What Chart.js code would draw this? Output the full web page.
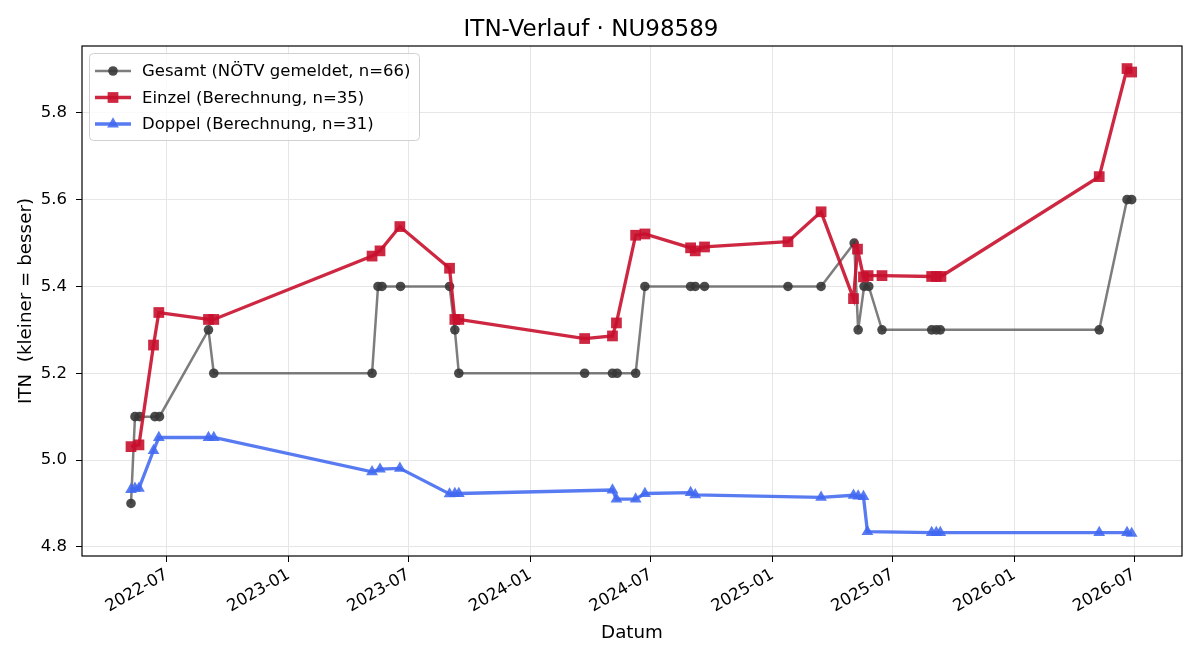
<!DOCTYPE html>
<html>
<head>
<meta charset="utf-8">
<script src="https://cdn.jsdelivr.net/npm/chart.js@4.4.1/dist/chart.umd.min.js"></script>
<style>
body{margin:0;background:#fff}
canvas{display:block}
</style>
</head>
<body>
<canvas id="chart" width="1200" height="660"></canvas>
<script>
// Werte
const gesamtDates = ['2022-05-08','2022-05-14','2022-05-21','2022-06-13','2022-06-20','2022-09-02','2022-09-10',
'2023-05-07','2023-05-16','2023-05-22','2023-06-19','2023-09-01','2023-09-09','2023-09-15',
'2024-03-23','2024-05-04','2024-05-11','2024-06-08','2024-06-22','2024-08-30','2024-09-06','2024-09-20',
'2025-01-24','2025-03-15','2025-05-04','2025-05-10','2025-05-19','2025-05-26','2025-06-15',
'2025-08-29','2025-09-05','2025-09-11','2026-05-09','2026-06-20','2026-06-27'];
const gesamtValues = [4.9,5.1,5.1,5.1,5.1,5.3,5.2,
5.2,5.4,5.4,5.4,5.4,5.3,5.2,
5.2,5.2,5.2,5.2,5.4,5.4,5.4,5.4,
5.4,5.4,5.5,5.3,5.4,5.4,5.3,
5.3,5.3,5.3,5.3,5.6,5.6];

const einzelDates = ['2022-05-08','2022-05-20','2022-06-11','2022-06-19','2022-09-02','2022-09-10',
'2023-05-07','2023-05-19','2023-06-18','2023-09-01','2023-09-09','2023-09-15',
'2024-03-23','2024-05-04','2024-05-10','2024-06-08','2024-06-22','2024-08-30','2024-09-06','2024-09-20',
'2025-01-24','2025-03-15','2025-05-03','2025-05-09','2025-05-18','2025-05-25','2025-06-15',
'2025-08-29','2025-09-05','2025-09-12','2026-05-09','2026-06-20','2026-06-27'];
const einzelValues = [5.031,5.035,5.265,5.340,5.324,5.324,
5.470,5.482,5.538,5.442,5.324,5.324,
5.280,5.286,5.316,5.518,5.521,5.489,5.482,5.491,
5.503,5.572,5.372,5.486,5.422,5.425,5.425,
5.423,5.423,5.423,5.653,5.902,5.894];

const doppelDates = ['2022-05-08','2022-05-14','2022-05-20','2022-06-11','2022-06-19','2022-09-02','2022-09-10',
'2023-05-07','2023-05-19','2023-06-18','2023-09-01','2023-09-09','2023-09-15',
'2024-05-04','2024-05-10','2024-06-08','2024-06-22','2024-08-30','2024-09-06',
'2025-03-15','2025-05-03','2025-05-10','2025-05-18','2025-05-24',
'2025-08-29','2025-09-05','2025-09-11','2026-05-09','2026-06-20','2026-06-27'];
const doppelValues = [4.932,4.935,4.935,5.022,5.052,5.052,5.052,
4.973,4.979,4.981,4.922,4.923,4.923,
4.931,4.910,4.910,4.923,4.925,4.920,
4.914,4.919,4.917,4.916,4.835,
4.833,4.833,4.833,4.833,4.833,4.831];

const seriesLabels = ['Gesamt (NÖTV gemeldet, n=66)','Einzel (Berechnung, n=35)','Doppel (Berechnung, n=31)'];
const xTickLabels = ['2022-07','2023-01','2023-07','2024-01','2024-07','2025-01','2025-07','2026-01','2026-07'];
const yTicks = [4.8,5.0,5.2,5.4,5.6,5.8];

const FONT = 'DejaVu Sans';
const xTickValues = xTickLabels.map(m => Date.parse(m + '-01'));

function toPoints(dates, values){
return dates.map((d,i) => ({x: Date.parse(d), y: values[i]}));
}

// Rahmen um den Plotbereich
const frame = {
id:'frame',
afterDatasetsDraw(chart){
const a = chart.chartArea, ctx = chart.ctx;
ctx.save();
ctx.strokeStyle = '#000';
ctx.lineWidth = 1.2;
ctx.strokeRect(a.left, a.top, a.right - a.left, a.bottom - a.top);
ctx.restore();
}
};

// Legende oben links im Plot
const legendBox = {
id:'legendBox',
afterDraw(chart){
const ctx = chart.ctx, a = chart.chartArea;
const x0 = a.left + 7, y0 = a.top + 7, w = 330, h = 87;
ctx.save();
ctx.fillStyle = 'rgba(255,255,255,0.8)';
ctx.strokeStyle = '#d0d0d0';
ctx.lineWidth = 1;
ctx.beginPath();
ctx.roundRect(x0 + 0.5, y0 + 0.5, w, h, 4);
ctx.fill();
ctx.stroke();
chart.data.datasets.forEach((ds, i) => {
const y = y0 + 18 + i * 26.5;
ctx.strokeStyle = ds.borderColor;
ctx.lineWidth = ds.borderWidth;
ctx.beginPath();
ctx.moveTo(x0 + 6, y);
ctx.lineTo(x0 + 42, y);
ctx.stroke();
ctx.fillStyle = ds.pointBackgroundColor;
ctx.strokeStyle = ds.pointBackgroundColor;
Chart.helpers.drawPoint(ctx, {pointStyle: ds.pointStyle, radius: ds.pointRadius, borderWidth: 0, rotation: 0}, x0 + 24, y);
ctx.fillStyle = '#000';
ctx.font = '16.5px "' + FONT + '"';
ctx.textBaseline = 'middle';
ctx.fillText(seriesLabels[i], x0 + 53, y + 1);
});
ctx.restore();
}
};

new Chart(document.getElementById('chart'), {
type:'line',
data:{
datasets:[
{
label: seriesLabels[0],
data: toPoints(gesamtDates, gesamtValues),
borderColor:'rgba(70,70,70,0.7)',
borderWidth:2.5,
pointStyle:'circle',
pointRadius:4.8,
pointBackgroundColor:'rgba(55,55,55,0.9)',
pointBorderWidth:0,
order:3
},
{
label: seriesLabels[1],
data: toPoints(einzelDates, einzelValues),
borderColor:'rgba(200,16,46,0.9)',
borderWidth:3.3,
pointStyle:'rect',
pointRadius:7.6,
pointBackgroundColor:'rgba(200,16,46,0.9)',
pointBorderWidth:0,
order:2
},
{
label: seriesLabels[2],
data: toPoints(doppelDates, doppelValues),
borderColor:'rgba(65,105,240,0.88)',
borderWidth:3.3,
pointStyle:'triangle',
pointRadius:6.8,
pointBackgroundColor:'rgba(65,105,240,0.88)',
pointBorderWidth:0,
order:1
}
]
},
options:{
responsive:false,
animation:false,
devicePixelRatio:1,
layout:{padding:{left:0,right:18,top:0,bottom:0}},
elements:{line:{tension:0,fill:false}},
plugins:{
legend:{display:false},
tooltip:{enabled:false},
title:{
display:true,
text:'ITN-Verlauf · NU98589',
color:'#000',
font:{family:FONT,size:23,weight:'normal'},
padding:{top:16,bottom:2.4}
}
},
scales:{
x:{
type:'linear',
min:Date.parse('2022-02-23'),
max:Date.parse('2026-09-11'),
afterBuildTicks(s){ s.ticks = xTickValues.map(v => ({value:v})); },
afterFit(s){ s.height = 104; },
ticks:{
callback:(v,i) => xTickLabels[i],
minRotation:30,
maxRotation:30,
color:'#000',
padding:3,
font:{family:FONT,size:16.5}
},
grid:{color:'#e6e6e6',lineWidth:1,tickColor:'#000',tickLength:6},
border:{display:false},
title:{display:true,text:'Datum',color:'#000',font:{family:FONT,size:18.3},padding:{top:0,bottom:16}}
},
y:{
type:'linear',
min:4.779,
max:5.954,
afterBuildTicks(s){ s.ticks = yTicks.map(v => ({value:v})); },
afterFit(s){ s.width = 82; },
ticks:{
callback:v => v.toFixed(1),
color:'#000',
padding:9,
font:{family:FONT,size:16.5}
},
grid:{color:'#e6e6e6',lineWidth:1,tickColor:'#000',tickLength:6},
border:{display:false},
title:{display:true,text:'ITN  (kleiner = besser)',color:'#000',font:{family:FONT,size:18.3},padding:{top:15,bottom:0}}
}
}
},
plugins:[frame, legendBox]
});
</script>
</body>
</html>
